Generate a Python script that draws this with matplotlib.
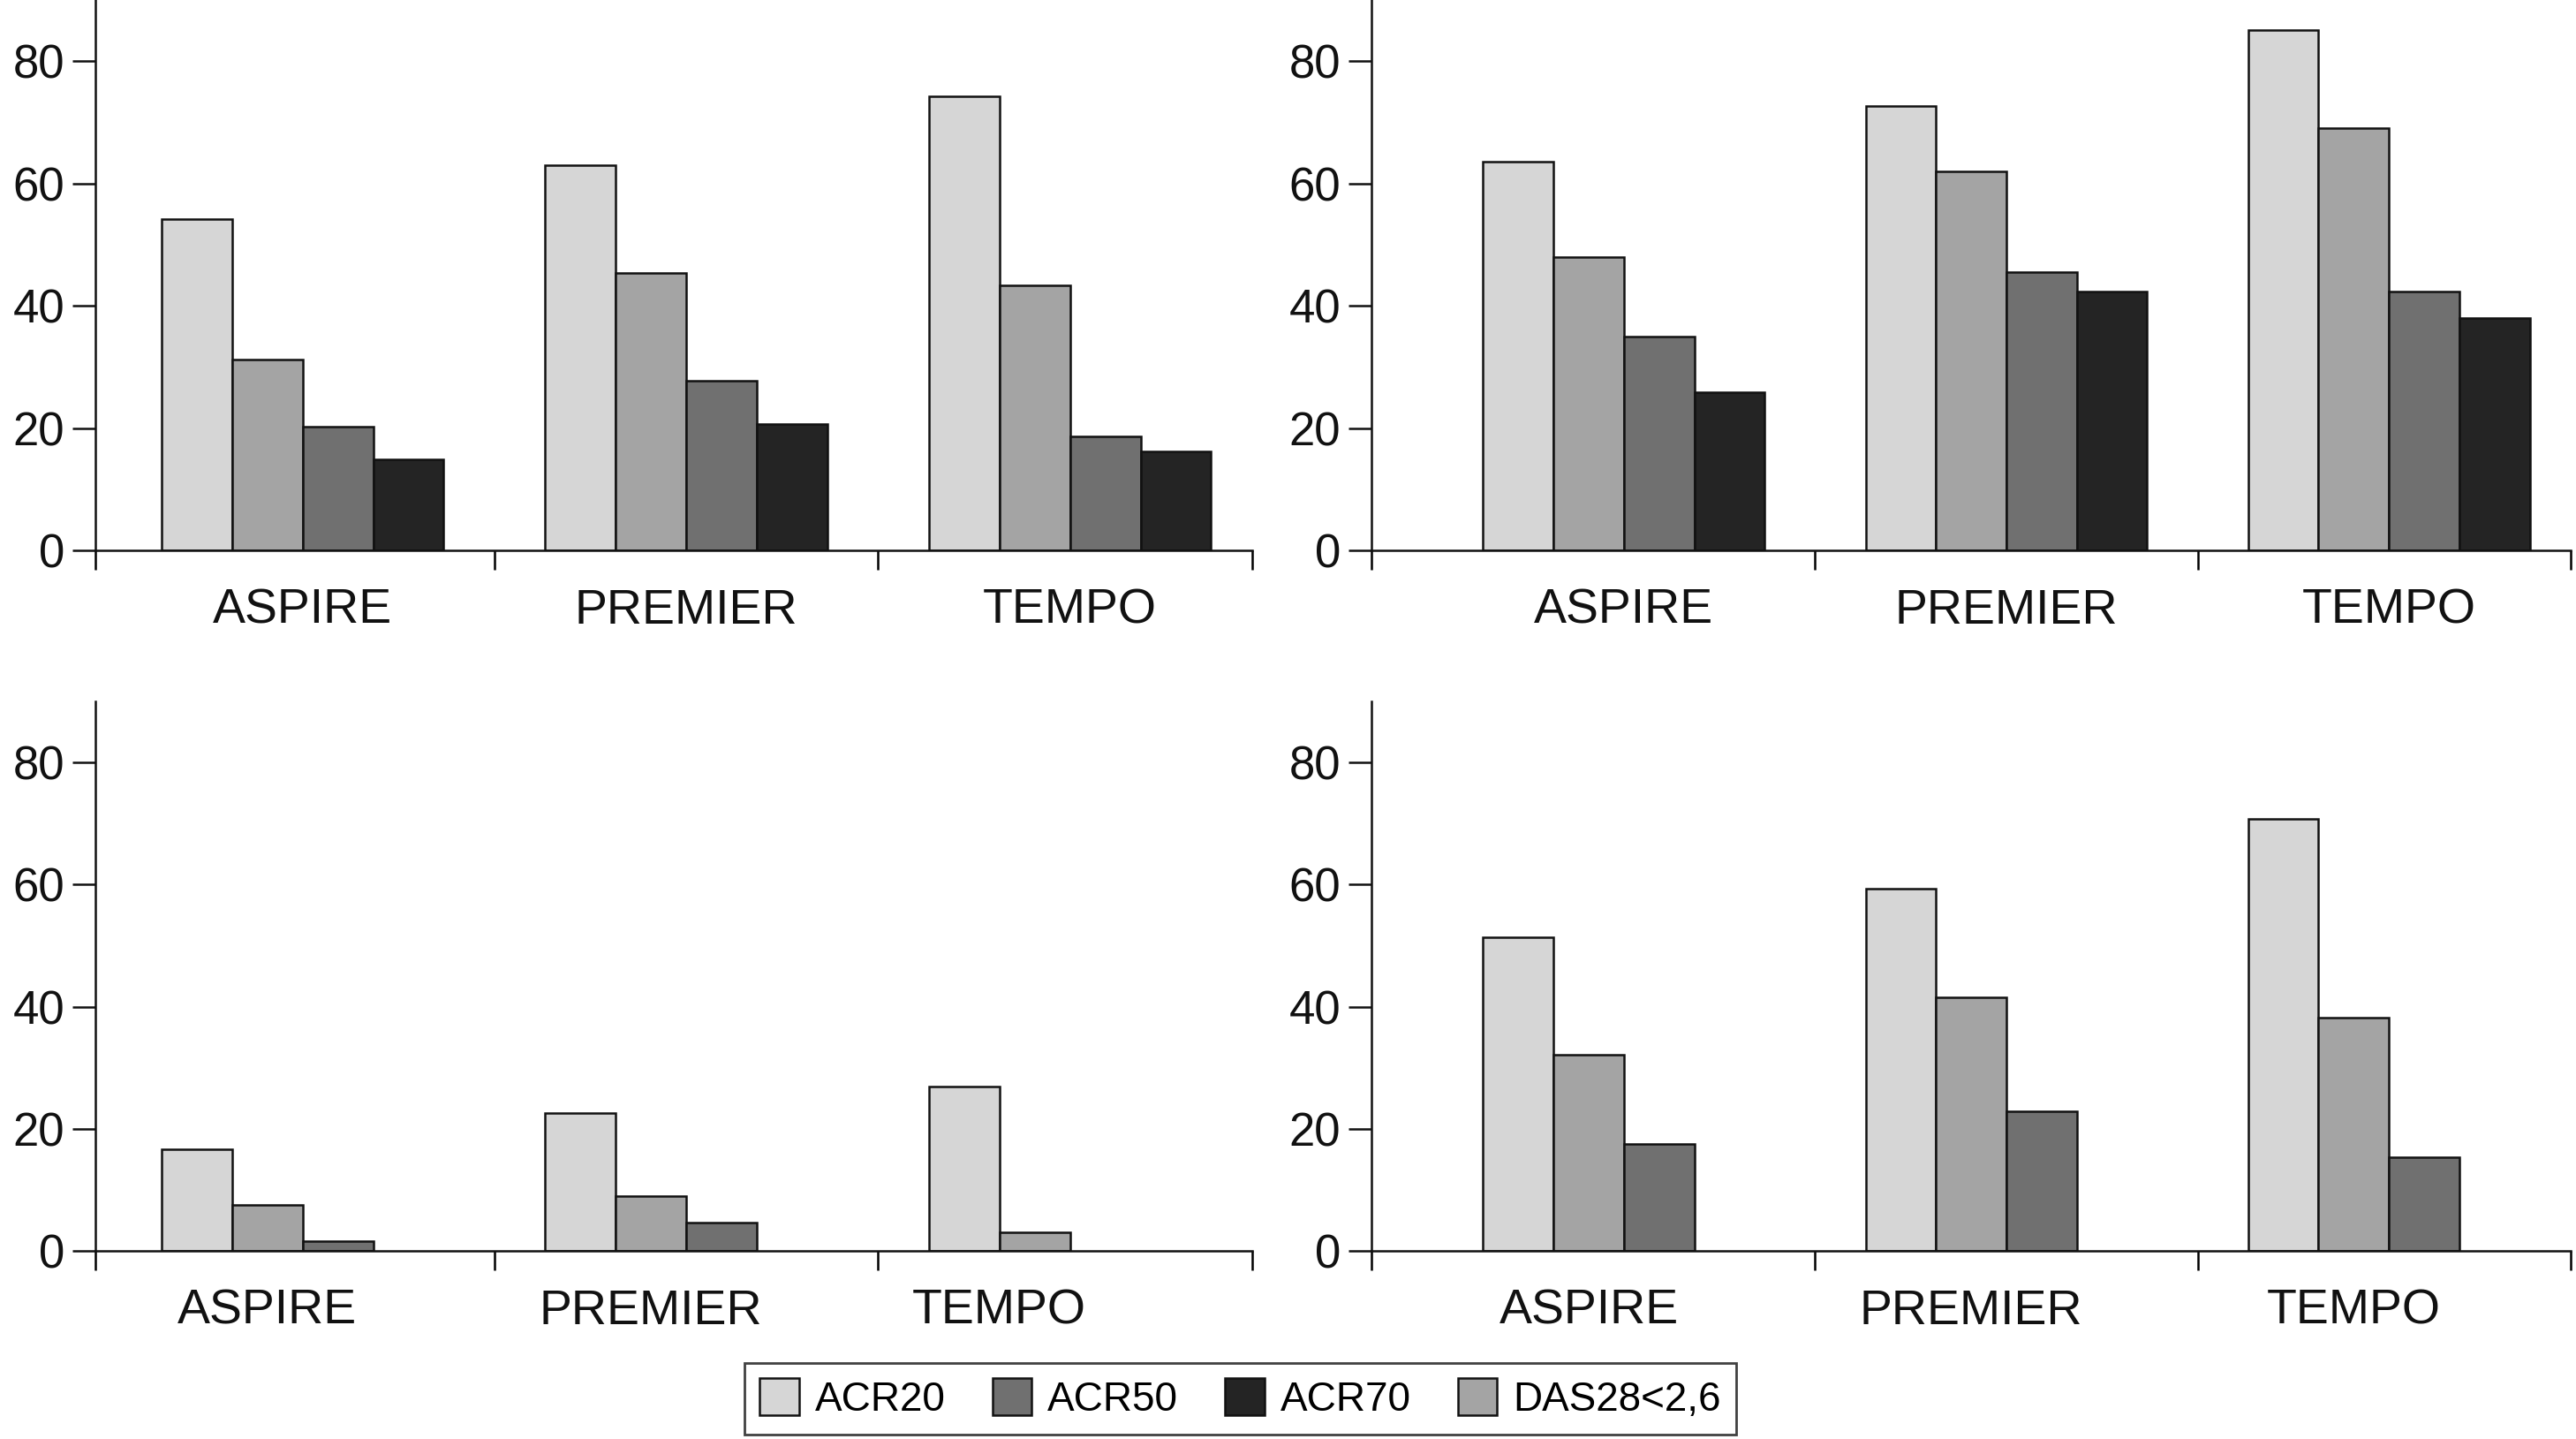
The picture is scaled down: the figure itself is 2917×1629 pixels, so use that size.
import matplotlib.pyplot as plt
from matplotlib.patches import Patch

# Data (percent of patients)
categories = ['ASPIRE', 'PREMIER', 'TEMPO']

tl_acr20 = [54.1, 63.0, 74.3]
tl_das28 = [31.2, 45.3, 43.4]
tl_acr50 = [20.2, 27.7, 18.6]
tl_acr70 = [14.8, 20.7, 16.2]

tr_acr20 = [63.6, 72.7, 85.1]
tr_das28 = [47.9, 62.0, 69.0]
tr_acr50 = [35.0, 45.5, 42.3]
tr_acr70 = [25.9, 42.3, 38.0]

bl_acr20 = [16.7, 22.6, 26.9]
bl_das28 = [7.5, 8.9, 3.0]
bl_acr50 = [1.6, 4.6, None]
bl_acr70 = [None, None, None]

br_acr20 = [51.4, 59.3, 70.8]
br_das28 = [32.1, 41.5, 38.2]
br_acr50 = [17.5, 22.9, 15.4]
br_acr70 = [None, None, None]

legend_labels = ['ACR20', 'ACR50', 'ACR70', 'DAS28<2,6']

c_acr20 = '#d6d6d6'
c_das28 = '#a4a4a4'
c_acr50 = '#707070'
c_acr70 = '#242424'

plt.rcParams['font.family'] = ['Liberation Sans', 'DejaVu Sans']

fig = plt.figure(figsize=(29.17, 16.29), dpi=100)

bw = 0.184


def panel(rect, series, xmin, tick_fs, lab_fs):
    ax = fig.add_axes(rect)
    colors = [c_acr20, c_das28, c_acr50, c_acr70]
    label_x = []
    for i in range(len(categories)):
        left = i - 2 * bw
        n = 0
        for k, vals in enumerate(series):
            v = vals[i]
            if v is None:
                continue
            ax.bar(left + k * bw, v, width=bw, align='edge', color=colors[k],
                   edgecolor='#111111', linewidth=1.8, zorder=2)
            n = k + 1
        label_x.append(left + n * bw / 2)
    xmax = 2.475
    ax.set_xlim(xmin, xmax)
    ax.set_ylim(0, 90)
    ax.spines['top'].set_visible(False)
    ax.spines['right'].set_visible(False)
    for s in ['left', 'bottom']:
        ax.spines[s].set_linewidth(1.8)
        ax.spines[s].set_color('#111111')
    ax.set_yticks([0, 20, 40, 60, 80])
    ax.tick_params(axis='y', length=19, width=1.8, direction='out', pad=6,
                   labelsize=tick_fs, colors='#111111')
    ax.set_xticks([xmin, 0.5, 1.5, xmax])
    ax.set_xticklabels([])
    ax.tick_params(axis='x', which='major', length=16, width=1.8, direction='out')
    ax.set_xticks(label_x, minor=True)
    ax.set_xticklabels(categories, minor=True)
    ax.tick_params(axis='x', which='minor', length=0, pad=31, labelsize=lab_fs,
                   colors='#111111')
    return ax


panel([0.0370, 0.6176, 0.4491, 0.3824], [tl_acr20, tl_das28, tl_acr50, tl_acr70],
      -0.54, 38, 40)
panel([0.5324, 0.6176, 0.4655, 0.3824], [tr_acr20, tr_das28, tr_acr50, tr_acr70],
      -0.66, 38, 40)
panel([0.0370, 0.1308, 0.4491, 0.3818], [bl_acr20, bl_das28, bl_acr50, bl_acr70],
      -0.54, 38, 40)
panel([0.5324, 0.1308, 0.4655, 0.3818], [br_acr20, br_das28, br_acr50, br_acr70],
      -0.66, 38, 40)

handles = [Patch(facecolor=c, edgecolor='#111111', linewidth=1.8)
           for c in [c_acr20, c_acr50, c_acr70, c_das28]]
leg = fig.legend(handles, legend_labels, loc='lower center', bbox_to_anchor=(0.4815, 0.003),
                 ncol=4, frameon=True, fancybox=False, prop={'size': 33},
                 handlelength=0.97, handleheight=1.0, handletextpad=0.4, columnspacing=1.15,
                 borderpad=0.38, borderaxespad=0.0)
leg.get_frame().set_edgecolor('#111111')
leg.get_frame().set_linewidth(2.0)

fig.savefig('out.png', dpi=100)
